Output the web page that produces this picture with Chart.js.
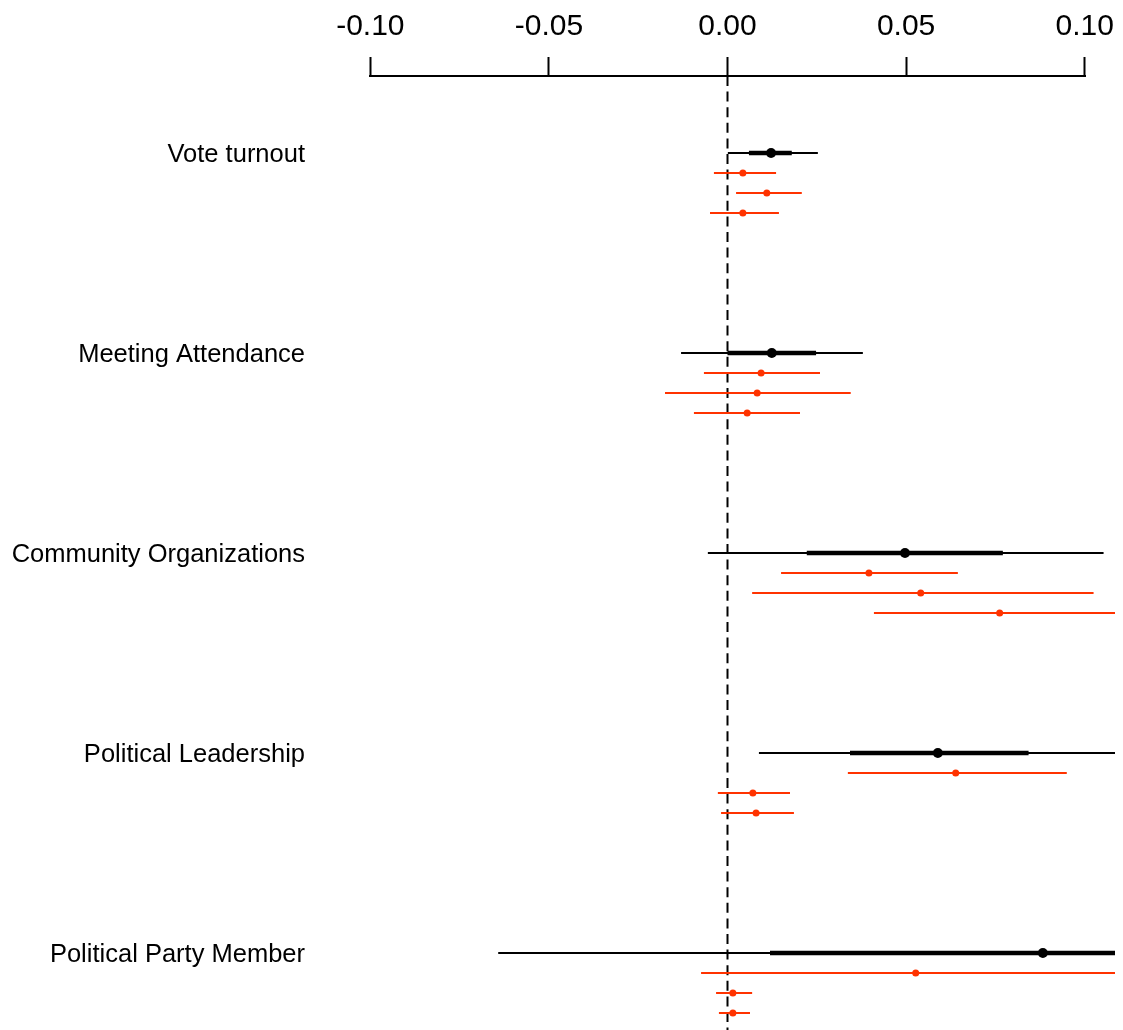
<!DOCTYPE html>
<html>
<head>
<meta charset="utf-8">
<script src="https://cdn.jsdelivr.net/npm/chart.js@4.4.1/dist/chart.umd.min.js"></script>
<style>
  html, body { margin: 0; padding: 0; background: #fff; }
  #wrap { width: 1123px; height: 1030px; }
</style>
</head>
<body>
<div id="wrap"><canvas id="c" width="1123" height="1030"></canvas></div>
<script>
// Outcomes, top to bottom
const categories = ['Vote turnout', 'Meeting Attendance', 'Community Organizations', 'Political Leadership', 'Political Party Member'];
const xTicks = [-0.10, -0.05, 0.00, 0.05, 0.10];

// Pooled estimate (black): point, outer interval, inner interval
const pooledEst     = [0.0122, 0.0124, 0.0497, 0.0589, 0.0883];
const pooledLo      = [0.0001, -0.0130, -0.0055, 0.0088, -0.0642];
const pooledHi      = [0.0253, 0.0379, 0.1053, 0.1090, 0.2408];
const pooledInnerLo = [0.0060, 0.0000, 0.0222, 0.0343, 0.0119];
const pooledInnerHi = [0.0180, 0.0248, 0.0771, 0.0843, 0.1647];

// Sub-sample estimates (red), three per outcome
const subEst = [
  [0.0043, 0.0110, 0.0043],
  [0.0094, 0.0083, 0.0055],
  [0.0396, 0.0541, 0.0762],
  [0.0639, 0.0071, 0.0080],
  [0.0527, 0.0015, 0.0015]
];
const subLo = [
  [-0.0038, 0.0024, -0.0049],
  [-0.0066, -0.0175, -0.0094],
  [0.0150, 0.0069, 0.0410],
  [0.0337, -0.0027, -0.0018],
  [-0.0074, -0.0032, -0.0024]
];
const subHi = [
  [0.0136, 0.0208, 0.0144],
  [0.0259, 0.0345, 0.0203],
  [0.0645, 0.1025, 0.1114],
  [0.0950, 0.0175, 0.0186],
  [0.1128, 0.0069, 0.0063]
];

// Vertical layout (row units)
const CAT_STEP = 10;
const SUB_STEP = 1;
const Y_MIN = -3.85, Y_MAX = 43.85;
const X_MIN = -0.1085, X_MAX = 0.1085;
const RED = '#ff3300';

const catY = i => i * CAT_STEP;
const subY = (i, j) => i * CAT_STEP + (j + 1) * SUB_STEP;

function segments(lo, hi, yFn) {
  const out = [];
  lo.forEach((v, i) => {
    out.push({ x: v, y: yFn(i) }, { x: hi[i], y: yFn(i) }, { x: null, y: null });
  });
  return out;
}

const blackOuter = segments(pooledLo, pooledHi, catY);
const blackInner = segments(pooledInnerLo, pooledInnerHi, catY);
const blackPts = pooledEst.map((v, i) => ({ x: v, y: catY(i) }));

const redSeg = [], redPts = [];
subEst.forEach((row, i) => {
  row.forEach((v, j) => {
    const y = subY(i, j);
    redSeg.push({ x: subLo[i][j], y }, { x: subHi[i][j], y }, { x: null, y: null });
    redPts.push({ x: v, y });
  });
});

// partial axis line between first and last tick, R style
const axisLine = {
  id: 'axisLine',
  afterDraw(chart) {
    const xs = chart.scales.x;
    const ctx = chart.ctx;
    const y = chart.chartArea.top;
    ctx.save();
    ctx.strokeStyle = '#000';
    ctx.lineWidth = 2;
    ctx.beginPath();
    ctx.moveTo(Math.round(xs.getPixelForValue(xTicks[0])) - 1, y);
    ctx.lineTo(Math.round(xs.getPixelForValue(xTicks[xTicks.length - 1])) + 1, y);
    ctx.stroke();
    ctx.restore();
  }
};

new Chart(document.getElementById('c'), {
  type: 'scatter',
  data: {
    datasets: [
      { data: blackPts, pointRadius: 5, pointBackgroundColor: '#000', pointBorderColor: '#000', pointBorderWidth: 0, showLine: false, order: 0 },
      { data: redPts, pointRadius: 3.5, pointBackgroundColor: RED, pointBorderColor: RED, pointBorderWidth: 0, showLine: false, order: 1 },
      { data: blackInner, showLine: true, borderColor: '#000', borderWidth: 4.5, pointRadius: 0, spanGaps: false, order: 2 },
      { data: blackOuter, showLine: true, borderColor: '#000', borderWidth: 2, pointRadius: 0, spanGaps: false, order: 3 },
      { data: redSeg, showLine: true, borderColor: RED, borderWidth: 2, pointRadius: 0, spanGaps: false, order: 4 },
      { data: [{ x: 0, y: Y_MIN }, { x: 0, y: Y_MAX }], showLine: true, borderColor: '#000', borderWidth: 2, borderDash: [10, 5.6], pointRadius: 0, order: 5 }
    ]
  },
  options: {
    responsive: false,
    animation: false,
    events: [],
    layout: { autoPadding: false, padding: { left: 0, top: 0, bottom: 0, right: 8 } },
    plugins: { legend: { display: false }, tooltip: { enabled: false } },
    scales: {
      x: {
        type: 'linear',
        position: 'top',
        min: X_MIN,
        max: X_MAX,
        afterBuildTicks: s => { s.ticks = xTicks.map(v => ({ value: v })); },
        afterFit: s => { s.height = 76; s.paddingLeft = 0; s.paddingRight = 0; },
        border: { display: false },
        grid: { drawOnChartArea: false, drawTicks: true, tickLength: 19, tickWidth: 2, tickColor: '#000' },
        ticks: {
          padding: 12,
          color: '#000',
          font: { family: 'Liberation Sans, Arial, sans-serif', size: 30 },
          callback: v => v.toFixed(2),
          maxRotation: 0,
          autoSkip: false
        }
      },
      y: {
        type: 'linear',
        reverse: true,
        min: Y_MIN,
        max: Y_MAX,
        afterBuildTicks: s => { s.ticks = categories.map((c, i) => ({ value: catY(i) })); },
        afterFit: s => { s.width = 340; s.paddingTop = 0; s.paddingBottom = 0; },
        border: { display: false },
        grid: { display: false, drawTicks: false },
        ticks: {
          padding: 35,
          labelOffset: 2,
          color: '#000',
          font: { family: 'Liberation Sans, Arial, sans-serif', size: 25.5 },
          callback: v => categories[Math.round(v / CAT_STEP)],
          autoSkip: false
        }
      }
    }
  },
  plugins: [axisLine]
});
</script>
</body>
</html>
